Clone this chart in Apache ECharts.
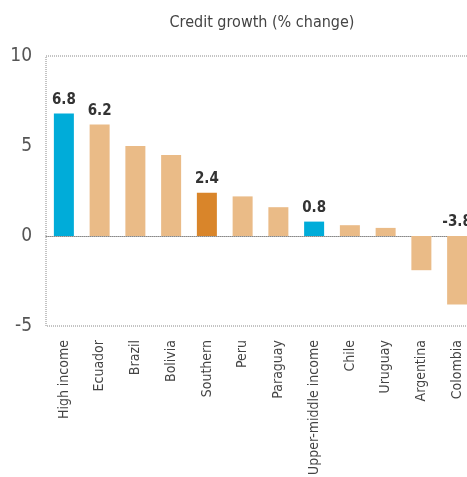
<!DOCTYPE html>
<html>
<head>
<meta charset="utf-8">
<script src="https://cdn.jsdelivr.net/npm/echarts@6/dist/echarts.min.js"></script>
<style>
  html, body { margin: 0; padding: 0; background: #fff; }
  #Credit { width: 467px; height: 477px; }
</style>
</head>
<body>
<div id="Credit"></div>
<script>
var categories = ['High income', 'Ecuador', 'Brazil', 'Bolivia', 'Southern', 'Peru',
    'Paraguay', 'Upper-middle income', 'Chile', 'Uruguay', 'Argentina', 'Colombia'];
var growth = [6.8, 6.2, 5.0, 4.5, 2.4, 2.2, 1.6, 0.8, 0.6, 0.45, -1.9, -3.8];
var labelled = ['High income', 'Ecuador', 'Southern', 'Upper-middle income', 'Colombia'];
var incomeGroups = ['High income', 'Upper-middle income'];
var subregion = ['Southern'];
var yTicks = [-5, 0, 5, 10];

var font = "'DejaVu Sans Condensed', 'Liberation Sans Narrow', sans-serif";

function barColor(name) {
    if (incomeGroups.indexOf(name) >= 0) return '#00acd9';
    if (subregion.indexOf(name) >= 0) return '#d9852a';
    return '#eabb87';
}

var chart = echarts.init(document.getElementById('Credit'));
var option = {
    animation: false,
    title: {
        text: 'Credit growth (% change)',
        left: 257,
        textAlign: 'center',
        top: 10,
        textStyle: { fontFamily: font, fontSize: 16, fontWeight: 'normal', color: '#444' }
    },
    grid: {
        left: 46, top: 56, right: -8, height: 270,
        outerBoundsMode: 'none',
        containLabel: false,
        show: true,
        borderColor: '#888',
        borderWidth: 1,
        borderType: 'dotted'
    },
    xAxis: {
        type: 'category',
        data: categories,
        axisLine: { onZero: true, lineStyle: { color: '#888', type: 'dotted' } },
        axisTick: { show: false },
        axisLabel: {
            interval: 0,
            rotate: 90,
            margin: 14,
            fontFamily: font,
            fontSize: 14,
            color: '#444'
        }
    },
    yAxis: {
        type: 'value',
        min: -5,
        max: 10,
        interval: 5,
        splitLine: { show: false },
        axisLine: { show: false },
        axisTick: { show: false },
        axisLabel: {
            margin: 14,
            fontFamily: font,
            fontSize: 19,
            color: '#555',
            formatter: function (v) { return yTicks.indexOf(v) >= 0 ? String(v) : ''; }
        }
    },
    series: [{
        type: 'bar',
        barWidth: 20,
        data: categories.map(function (name, i) {
            return {
                value: growth[i],
                itemStyle: { color: barColor(name) },
                label: { show: labelled.indexOf(name) >= 0 }
            };
        }),
        label: {
            position: 'top',
            distance: 6,
            fontFamily: font,
            fontSize: 15,
            fontWeight: 'bold',
            color: '#333',
            formatter: function (p) { return p.value.toFixed(1); }
        }
    }]
};

chart.setOption(option);
</script>
</body>
</html>
